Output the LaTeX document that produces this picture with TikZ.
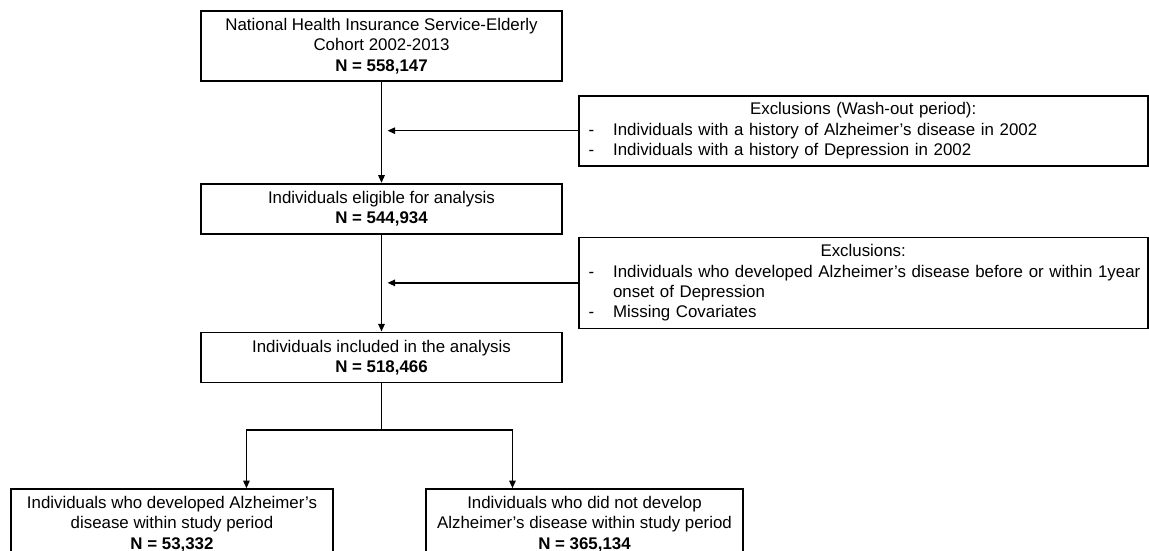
\documentclass[tikz,border=0pt]{standalone}
\usepackage{fontspec}
\setmainfont{Liberation Sans}
\usepackage{tikz}
\usetikzlibrary{positioning,calc,arrows.meta}

\newcommand{\exitem}[1]{\par\noindent\hangindent=0.66cm\hangafter=1\makebox[0.66cm][l]{\hspace{0.05cm}-}#1}

\begin{document}
\begin{tikzpicture}[
    node distance=2.5cm,
    box/.style={rectangle, draw, line width=1.2pt, minimum width=9.025cm, minimum height=1.25cm, inner sep=0pt, align=center, font=\fontsize{12}{14.4}\selectfont},
    exbox/.style={box, minimum width=14.225cm, text width=13.825cm, inner xsep=0.2cm, align=left},
    arrow/.style={-{Triangle[length=1.9mm,width=1.6mm]}, line width=1.1pt},
    line/.style={line width=1.1pt}
  ]
    \useasboundingbox (0,0) rectangle (28.725,-13.775);
    \clip (0,0) rectangle (28.725,-13.775);

    \node[box, minimum height=1.75cm] (cohort) at (9.5375,-1.15) {National Health Insurance Service-Elderly\\Cohort 2002-2013\\\textbf{N = 558,147}};
    \node[box, below=2.525cm of cohort] (eligible) {Individuals eligible for analysis\\\textbf{N = 544,934}};
    \node[box, below=2.425cm of eligible] (included) {Individuals included in the analysis\\\textbf{N = 518,466}};
    \node[exbox, minimum height=1.75cm, below right=0.325cm and 0.375cm of cohort.south east] (washout) {{\centering Exclusions (Wash-out period):\par}
      \exitem{Individuals with a history of Alzheimer’s disease in 2002}
      \exitem{Individuals with a history of Depression in 2002}};
    \node[exbox, minimum height=2.275cm, below right=0.05cm and 0.375cm of eligible.south east] (exclude) {{\centering Exclusions:\par}
      \exitem{\mbox{Individuals who developed Alzheimer’s disease before or within 1year}\newline onset of Depression}
      \exitem{Missing Covariates}};
    \node[box, minimum width=8.05cm, minimum height=1.75cm, below=2.625cm of included, xshift=-5.2375cm] (ad) {Individuals who developed Alzheimer’s\\disease within study period\\\textbf{N = 53,332}};
    \node[box, minimum width=7.925cm, minimum height=1.75cm, below=2.625cm of included, xshift=5.075cm] (noad) {Individuals who did not develop\\Alzheimer’s disease within study period\\\textbf{N = 365,134}};

    \coordinate (split) at ($(included.south)+(0,-1.175)$);
    \coordinate (adin) at ($(ad.north west)!0.73!(ad.north east)$);
    \coordinate (noadin) at ($(noad.north west)!0.274!(noad.north east)$);

    \draw[arrow] (cohort) -- (eligible);
    \draw[arrow, shorten >=0.15cm] (washout.west) -- (washout.west -| cohort.south);
    \draw[arrow] (eligible) -- (included);
    \draw[arrow, shorten >=0.15cm] (exclude.west) -- (exclude.west -| eligible.south);
    \draw[line] (included) -- (split);
    \draw[arrow] (split) -| (adin);
    \draw[arrow] (split) -| (noadin);
  \end{tikzpicture}
\end{document}
